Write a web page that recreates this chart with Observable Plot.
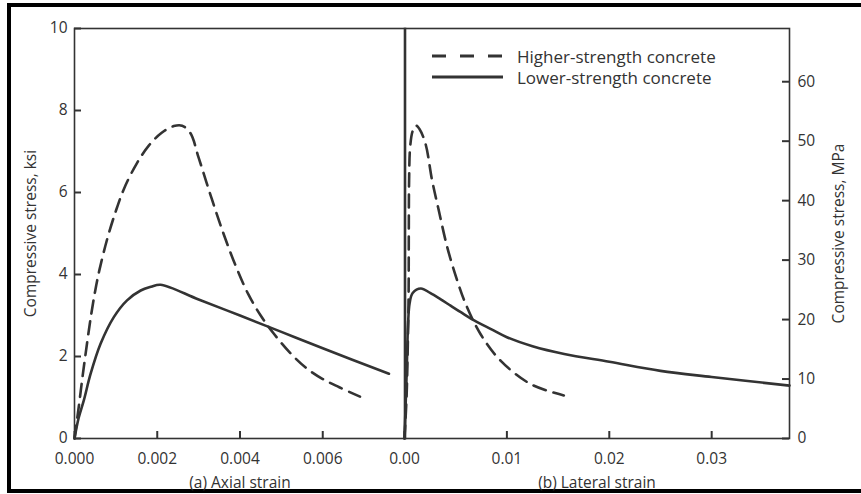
<!DOCTYPE html>
<html><head><meta charset="utf-8">
<script src="https://cdn.jsdelivr.net/npm/d3@7"></script>
<script src="https://cdn.jsdelivr.net/npm/@observablehq/plot@0.6"></script>
<style>
body{margin:0;background:#fff;}
#wrap{position:relative;width:861px;height:494px;overflow:hidden;font-family:"Open Sans",sans-serif;background:#fff;}
#frame{position:absolute;left:7px;top:3px;width:900px;height:482px;border:4px solid #000;border-right:none;}
#left{position:absolute;left:0;top:0;}
#right{position:absolute;left:404px;top:0;}
#legend{position:absolute;left:0;top:0;}
</style></head><body>
<div id="wrap"><div id="frame"></div><div id="left"></div><div id="right"></div><svg id="legend" width="861" height="100"></svg></div>
<script>
// Series names
const seriesNames = ["Higher-strength concrete", "Lower-strength concrete"];

// (a) Axial strain – higher-strength concrete (stress in ksi)
const axialStrainHigh = [0, 0.0001, 0.0002, 0.0003, 0.0004, 0.0005, 0.0006, 0.0008, 0.0010, 0.0012, 0.0015, 0.0018, 0.0021, 0.0024, 0.0026, 0.0028, 0.0030, 0.0033, 0.0036, 0.0039, 0.0042, 0.0045, 0.0048, 0.0052, 0.0056, 0.0060, 0.0064, 0.0069];
const axialStressHigh = [0, 0.75, 1.55, 2.30, 3.00, 3.60, 4.10, 4.90, 5.55, 6.10, 6.70, 7.15, 7.45, 7.62, 7.63, 7.45, 6.85, 5.90, 5.00, 4.20, 3.52, 3.00, 2.58, 2.10, 1.72, 1.45, 1.25, 1.02];

// (a) Axial strain – lower-strength concrete
const axialStrainLow = [0, 0.0001, 0.000225, 0.00039, 0.00063, 0.00095, 0.00127, 0.0016, 0.00185, 0.00208, 0.0030, 0.0040, 0.0050, 0.0060, 0.0076];
const axialStressLow = [0, 0.50, 0.93, 1.58, 2.31, 2.96, 3.37, 3.61, 3.70, 3.75, 3.39, 3.00, 2.60, 2.20, 1.58];

// (b) Lateral strain – higher-strength concrete
const latStrainHigh = [0, 0.0002, 0.0003, 0.0004, 0.00042, 0.00045, 0.00055, 0.0008, 0.00114, 0.00146, 0.00205, 0.0027, 0.00335, 0.00417, 0.00515, 0.00596, 0.00742, 0.00938, 0.0123, 0.01556];
const latStressHigh = [0, 1.0, 2.0, 3.5, 5.0, 6.3, 7.1, 7.5, 7.63, 7.55, 7.19, 6.29, 5.56, 4.67, 3.85, 3.29, 2.55, 1.90, 1.33, 1.05];

// (b) Lateral strain – lower-strength concrete
const latStrainLow = [0, 0.0002, 0.00035, 0.0005, 0.0008, 0.0016, 0.0025, 0.0035, 0.0045, 0.0055, 0.0068, 0.0085, 0.0100, 0.0125, 0.0156, 0.0200, 0.0250, 0.0300, 0.0376];
const latStressLow = [0, 1.5, 2.8, 3.3, 3.55, 3.66, 3.55, 3.40, 3.24, 3.08, 2.88, 2.66, 2.47, 2.25, 2.06, 1.87, 1.65, 1.50, 1.29];

// Tick values / labels
const ksiTicks = [0, 2, 4, 6, 8, 10];
const mpaTicks = [0, 10, 20, 30, 40, 50, 60];
const axialTicks = [0, 0.002, 0.004, 0.006];
const lateralTicks = [0, 0.01, 0.02, 0.03];
const KSI_TO_MPA = 6.895;
const axialMax = 0.008, lateralMax = 0.0376, ksiMax = 10;

const toRows = (xs, ys) => xs.map((x, i) => ({strain: x, stress: ys[i]}));
const axialHigh = toRows(axialStrainHigh, axialStressHigh);
const axialLow = toRows(axialStrainLow, axialStressLow);
const latHigh = toRows(latStrainHigh, latStressHigh);
const latLow = toRows(latStrainLow, latStressLow);

const ink = "#333";
const style = {fontFamily: "'Open Sans', sans-serif", fontSize: "15.5px", color: ink, background: "transparent", overflow: "visible"};
const dash = "13,8";
const TICK = 7; // px
const PH = 494 - 28 - 56; // plot height px
const LW = 405 - 74;      // left plot width px
const RW = 457 - 72;      // right plot width px
const tk = {stroke: ink, strokeWidth: 2};

const left = Plot.plot({
  width: 405, height: 494, marginLeft: 74, marginRight: 0, marginTop: 28, marginBottom: 56,
  style,
  x: {domain: [0, axialMax]},
  y: {domain: [0, ksiMax]},
  marks: [
    Plot.frame({stroke: ink, strokeWidth: 1.6}),
    // inward tick marks
    Plot.ruleY(ksiTicks, {y: d => d, x1: 0, x2: axialMax * TICK / LW, ...tk}),
    Plot.ruleX(axialTicks, {x: d => d, y1: 0, y2: ksiMax * TICK / PH, ...tk}),
    // labels
    Plot.axisY(ksiTicks, {tickSize: 0, tickPadding: 7, label: "Compressive stress, ksi", labelAnchor: "center", labelArrow: "none", labelOffset: 50}),
    Plot.axisX(axialTicks, {tickSize: 0, tickPadding: 14, tickFormat: d3.format(".3f"), label: "(a) Axial strain", labelAnchor: "center", labelArrow: "none", labelOffset: 49}),
    Plot.line(axialHigh, {x: "strain", y: "stress", curve: "catmull-rom", stroke: ink, strokeWidth: 2.6, strokeDasharray: dash}),
    Plot.line(axialLow, {x: "strain", y: "stress", curve: "catmull-rom", stroke: ink, strokeWidth: 2.6})
  ]
});
document.getElementById("left").append(left);

const mpaMax = ksiMax * KSI_TO_MPA;
const right = Plot.plot({
  width: 457, height: 494, marginLeft: 0, marginRight: 72, marginTop: 28, marginBottom: 56,
  style,
  x: {domain: [0, lateralMax]},
  y: {domain: [0, mpaMax]},
  marks: [
    Plot.frame({stroke: ink, strokeWidth: 1.6}),
    Plot.ruleY(mpaTicks, {y: d => d, x1: lateralMax, x2: lateralMax * (1 - TICK / RW), ...tk}),
    Plot.ruleX(lateralTicks, {x: d => d, y1: 0, y2: mpaMax * TICK / PH, ...tk}),
    Plot.axisY(mpaTicks, {anchor: "right", tickSize: 0, tickPadding: 8, label: "Compressive stress, MPa", labelAnchor: "center", labelArrow: "none", labelOffset: 54}),
    Plot.axisX(lateralTicks, {tickSize: 0, tickPadding: 14, tickFormat: d3.format(".2f"), label: "(b) Lateral strain", labelAnchor: "center", labelArrow: "none", labelOffset: 49}),
    Plot.line(latHigh, {x: "strain", y: d => d.stress * KSI_TO_MPA, curve: "catmull-rom", stroke: ink, strokeWidth: 2.6, strokeDasharray: dash}),
    Plot.line(latLow, {x: "strain", y: d => d.stress * KSI_TO_MPA, curve: "catmull-rom", stroke: ink, strokeWidth: 2.6})
  ]
});
document.getElementById("right").append(right);

// Legend
const lg = d3.select("#legend");
seriesNames.forEach((name, i) => {
  const y = 56 + i * 21;
  lg.append("line").attr("x1", 432).attr("x2", 503).attr("y1", y).attr("y2", y)
    .attr("stroke", ink).attr("stroke-width", 3)
    .attr("stroke-dasharray", i === 0 ? "14,14" : null);
  lg.append("text").attr("x", 517).attr("y", y + 1.5).attr("dy", "0.35em")
    .attr("fill", ink).style("font-family", "'Open Sans', sans-serif").style("font-size", "17px")
    .text(name);
});
</script>
</body></html>
